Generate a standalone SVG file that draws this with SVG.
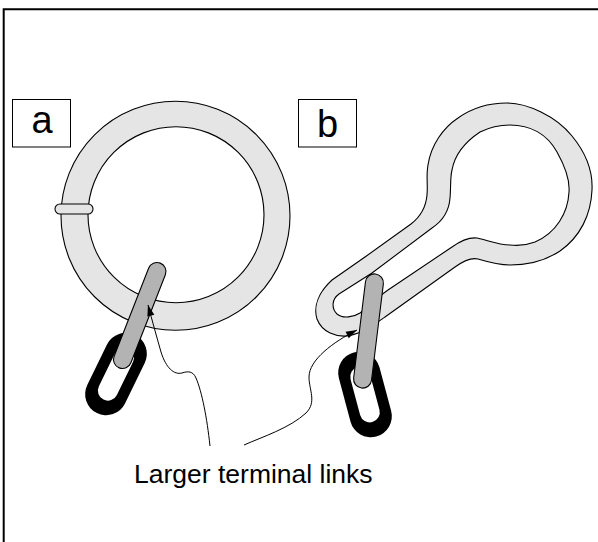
<svg xmlns="http://www.w3.org/2000/svg" width="598" height="542" viewBox="0 0 598 542">
  <style>
    .frame { fill: none; stroke: #000; stroke-width: 2; }
    .tube { fill: #e5e5e5; stroke: #000; stroke-width: 1.1; fill-rule: evenodd; }
    .bar { fill: #b3b3b3; stroke: #000; stroke-width: 1.1; }
    .link { fill: #000; fill-rule: evenodd; }
    .label-box { fill: #fff; stroke: #000; stroke-width: 1; }
    .label { font-family: "Liberation Sans", Arial, sans-serif; font-size: 38px; fill: #000; text-anchor: middle; }
    .caption { font-family: "Liberation Sans", Arial, sans-serif; font-size: 26.5px; fill: #000; }
    .leader { fill: none; stroke: #000; stroke-width: 1; }
  </style>
  <defs>
    <marker id="arrow" markerUnits="userSpaceOnUse" markerWidth="14" markerHeight="10" viewBox="-12 -5 14 10" refX="0" refY="0" orient="auto">
      <path d="M0,0 L-11,-3.6 L-11,3.6 Z" fill="#000"/>
    </marker>
    <!-- chain link: outer stadium minus inner stadium -->
    <path id="chainLink" d="M-21,-22.5 A21,21 0 0 1 21,-22.5 V22.5 A21,21 0 0 1 -21,22.5 Z M-10,-18.5 A10,10 0 0 1 10,-18.5 V18.5 A10,10 0 0 1 -10,18.5 Z"/>
  </defs>

  <!-- outer frame (top and left edges) -->
  <path class="frame" d="M3.7,542 V9.3 H598"/>

  <!-- panel a -->
  <g id="label-a">
    <rect class="label-box" x="12.5" y="99.5" width="58" height="47.5"/>
    <text class="label" x="42" y="133">a</text>
  </g>

  <g id="ring-a">
    <path class="tube" d="M61,215.8 A114.5,114.5 0 1 1 290,215.8 A114.5,114.5 0 1 1 61,215.8 Z M88,214.7 A88,88 0 1 0 264,214.7 A88,88 0 1 0 88,214.7 Z"/>
    <rect class="tube" x="55" y="204" width="38" height="10" rx="5"/>
  </g>

  <g id="link-a">
    <use href="#chainLink" class="link" transform="translate(116,374) rotate(26)"/>
  </g>

  <g id="bar-a">
    <rect class="bar" x="130.75" y="259.25" width="18" height="112.5" rx="9" transform="rotate(21.4 139.75 315.5)"/>
  </g>

  <!-- panel b -->
  <g id="label-b">
    <rect class="label-box" x="298.5" y="99.5" width="58" height="47.5"/>
    <text class="label" x="327.5" y="136.5">b</text>
  </g>

  <g id="loop-b">
    <path class="tube" d="M507,103
      C527,103 556,116 572,136
      C586,153 593,170 592,190
      C591,215 580,237 560,251
      C545,261 527,265 510,265
      C498,265 488,262 478,259
      C470,257 462,262 455,267
      L385,317
      C372,326 362,333 350,335.5
      C336,338 322,332 317,319
      C313,306 319,292 332,280
      L365,257
      L411,224
      C420,217 426,207 427,195
      C428,185 426,175 428,165
      C431,145 443,128 458,118
      C472,108 490,103 507,103 Z
      M510,125
      C530,125 547,134 557,152
      C566,168 570,180 569,192
      C568,213 556,233 535,242
      C527,245 518,246 510,245
      C498,245 487,240 477,238
      C468,237 459,242 452,247
      L388,290
      C378,297 368,306 360,313
      C354,317 343,319 337,314
      C331,308 332,299 339,294
      L372,273
      L432,228
      C441,222 449,212 450,198
      C451,188 450,178 452,170
      C455,153 468,140 480,132
      C490,127 500,125 510,125 Z"/>
  </g>

  <g id="link-b">
    <use href="#chainLink" class="link" transform="translate(365,394.5) rotate(-15)"/>
  </g>

  <g id="bar-b">
    <rect class="bar" x="359.5" y="273.5" width="18" height="115" rx="9" transform="rotate(7 368.5 331)"/>
  </g>

  <!-- caption -->
  <g id="caption">
    <text class="caption" x="134" y="483">Larger terminal links</text>
  </g>

  <!-- leader lines from the caption to the terminal links -->
  <g id="connectors">
    <path class="leader" marker-end="url(#arrow)" d="M210,446 C207,418 202,392 196,378 C193,371 188,371 182,373 C174,375 166,368 161,352 C157,338 152,320 148,305"/>
    <path class="leader" marker-end="url(#arrow)" d="M244,445 C262,437 290,428 306,413 C317,402 309,390 309,377 C309,360 333,342 357,330"/>
  </g>
</svg>
